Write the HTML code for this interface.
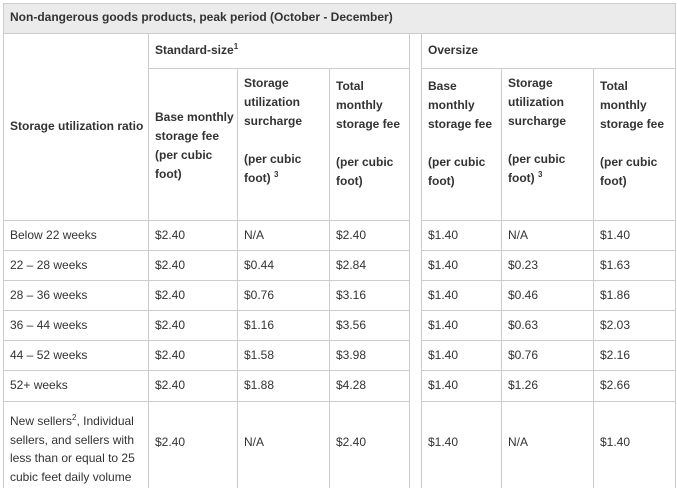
<!DOCTYPE html>
<html><head><meta charset="utf-8"><style>
body{margin:0;width:677px;height:488px;background:#fff;overflow:hidden;position:relative;font-family:"Liberation Sans",sans-serif;font-size:12px;color:#333;}
.l{position:absolute;background:#ccc;}
.t{position:absolute;white-space:nowrap;line-height:19px;}
.b{font-weight:bold;}
sup{font-size:8px;line-height:0;vertical-align:5px;}
</style></head><body>
<div style="position:absolute;left:3px;top:3px;width:673px;height:30px;background:#ebebeb"></div>
<div class="l" style="left:3px;top:3px;width:673px;height:1px"></div>
<div class="l" style="left:3px;top:33px;width:673px;height:1px"></div>
<div class="l" style="left:148px;top:68px;width:261px;height:1px"></div>
<div class="l" style="left:421px;top:68px;width:255px;height:1px"></div>
<div class="l" style="left:3px;top:220px;width:406px;height:1px"></div>
<div class="l" style="left:421px;top:220px;width:255px;height:1px"></div>
<div class="l" style="left:3px;top:250px;width:406px;height:1px"></div><div class="l" style="left:421px;top:250px;width:255px;height:1px"></div>
<div class="l" style="left:3px;top:280px;width:406px;height:1px"></div><div class="l" style="left:421px;top:280px;width:255px;height:1px"></div>
<div class="l" style="left:3px;top:310px;width:406px;height:1px"></div><div class="l" style="left:421px;top:310px;width:255px;height:1px"></div>
<div class="l" style="left:3px;top:340px;width:406px;height:1px"></div><div class="l" style="left:421px;top:340px;width:255px;height:1px"></div>
<div class="l" style="left:3px;top:370px;width:406px;height:1px"></div><div class="l" style="left:421px;top:370px;width:255px;height:1px"></div>
<div class="l" style="left:3px;top:401px;width:406px;height:1px"></div><div class="l" style="left:421px;top:401px;width:255px;height:1px"></div>
<div class="l" style="left:3px;top:3px;width:1px;height:485px"></div>
<div class="l" style="left:675px;top:3px;width:1px;height:485px"></div>
<div class="l" style="left:148px;top:33px;width:1px;height:455px"></div>
<div class="l" style="left:237px;top:68px;width:1px;height:420px"></div>
<div class="l" style="left:329px;top:68px;width:1px;height:420px"></div>
<div class="l" style="left:409px;top:33px;width:1px;height:455px"></div>
<div class="l" style="left:421px;top:33px;width:1px;height:455px"></div>
<div class="l" style="left:501px;top:68px;width:1px;height:420px"></div>
<div class="l" style="left:593px;top:68px;width:1px;height:420px"></div>

<div class="t b" style="left:10px;top:8px">Non-dangerous goods products, peak period (October - December)</div>
<div class="t b" style="left:155px;top:41px">Standard-size<sup>1</sup></div>
<div class="t b" style="left:428px;top:41px">Oversize</div>
<div class="t b" style="left:10px;top:117px">Storage utilization ratio</div>
<div class="t b" style="left:155px;top:108px">Base monthly<br>storage fee<br>(per cubic<br>foot)</div>
<div class="t b" style="left:244px;top:74px">Storage<br>utilization<br>surcharge<br><br>(per cubic<br>foot) <sup>3</sup></div>
<div class="t b" style="left:336px;top:77px">Total<br>monthly<br>storage fee<br><br>(per cubic<br>foot)</div>
<div class="t b" style="left:428px;top:77px">Base<br>monthly<br>storage fee<br><br>(per cubic<br>foot)</div>
<div class="t b" style="left:508px;top:74px">Storage<br>utilization<br>surcharge<br><br>(per cubic<br>foot) <sup>3</sup></div>
<div class="t b" style="left:600px;top:77px">Total<br>monthly<br>storage fee<br><br>(per cubic<br>foot)</div>

<div class="t" style="left:10px;top:220px;line-height:30px">Below 22 weeks<br>22 – 28 weeks<br>28 – 36 weeks<br>36 – 44 weeks<br>44 – 52 weeks<br>52+ weeks</div>
<div class="t" style="left:155px;top:220px;line-height:30px">$2.40<br>$2.40<br>$2.40<br>$2.40<br>$2.40<br>$2.40</div>
<div class="t" style="left:244px;top:220px;line-height:30px">N/A<br>$0.44<br>$0.76<br>$1.16<br>$1.58<br>$1.88</div>
<div class="t" style="left:336px;top:220px;line-height:30px">$2.40<br>$2.84<br>$3.16<br>$3.56<br>$3.98<br>$4.28</div>
<div class="t" style="left:428px;top:220px;line-height:30px">$1.40<br>$1.40<br>$1.40<br>$1.40<br>$1.40<br>$1.40</div>
<div class="t" style="left:508px;top:220px;line-height:30px">N/A<br>$0.23<br>$0.46<br>$0.63<br>$0.76<br>$1.26</div>
<div class="t" style="left:600px;top:220px;line-height:30px">$1.40<br>$1.63<br>$1.86<br>$2.03<br>$2.16<br>$2.66</div>

<div class="t" style="left:10px;top:412px;line-height:18.5px">New sellers<sup>2</sup>, Individual<br>sellers, and sellers with<br>less than or equal to 25<br>cubic feet daily volume</div>
<div class="t" style="left:155px;top:433px">$2.40</div>
<div class="t" style="left:244px;top:433px">N/A</div>
<div class="t" style="left:336px;top:433px">$2.40</div>
<div class="t" style="left:428px;top:433px">$1.40</div>
<div class="t" style="left:508px;top:433px">N/A</div>
<div class="t" style="left:600px;top:433px">$1.40</div>
</body></html>
